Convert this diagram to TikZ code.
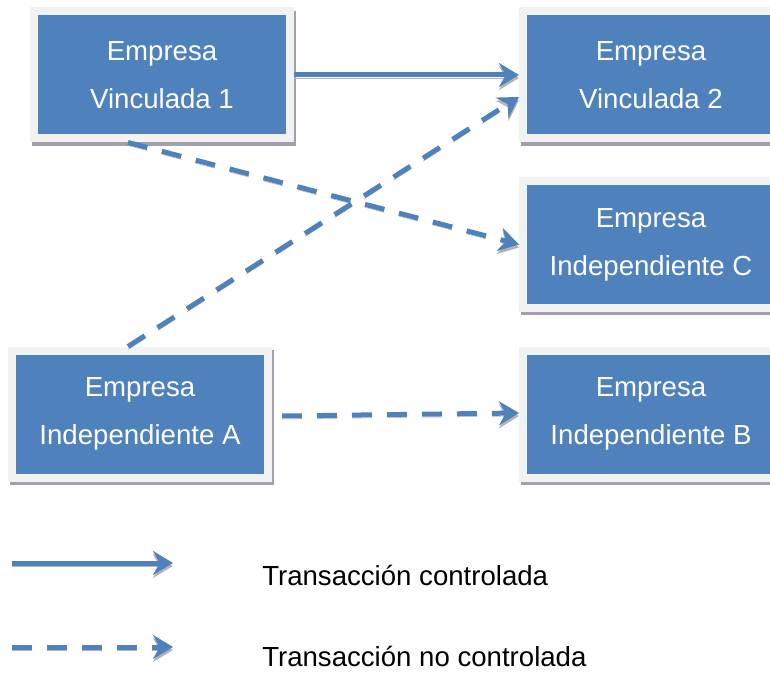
\documentclass[tikz,border=0pt]{standalone}
\usepackage{fontspec}
\setmainfont{Liberation Sans}
\usetikzlibrary{arrows.meta}
\definecolor{boxblue}{HTML}{4F81BD}
\definecolor{framegray}{HTML}{F2F2F2}
\definecolor{shadowgray}{HTML}{9FA0AA}
\definecolor{lineshadow}{HTML}{B4B4B4}
\tikzset{
  firm/.style={draw=framegray, line width=6pt, fill=boxblue,
    minimum width=192pt, minimum height=95.25pt, inner sep=0pt,
    text=white, align=center, font=\fontsize{20.7}{36}\selectfont,
    preaction={draw=shadowgray, fill=shadowgray, line width=6pt,
      transform canvas={shift={(1.5pt,-2.5pt)}}}},
  tipshape/.style={-{Stealth[length=15pt,width=18pt,inset=5pt]}},
  link/.style={draw=boxblue, line width=3.75pt, tipshape,
    preaction={draw=lineshadow, tipshape, transform canvas={yshift=-2.25pt}}},
  dashlink/.style={draw=boxblue, line width=3.75pt, tipshape,
    dash pattern=on 15pt off 11.25pt,
    preaction={draw=lineshadow, tipshape, dash pattern=on 15pt off 11.25pt,
      transform canvas={yshift=-2.25pt}}},
  legendtext/.style={anchor=base west, inner sep=0pt, font=\fontsize{20.7}{24}\selectfont}
}
\begin{document}
\begin{tikzpicture}[x=0.75pt, y=-0.75pt]
\useasboundingbox (0,0) rectangle (770,673);
\clip (0,0) rectangle (770,673);
\fill[white] (0,0) rectangle (770,673);

\node[firm] (v1) at (162,75) {Empresa\\Vinculada 1};
\node[firm] (v2) at (651,75) {Empresa\\Vinculada 2};
\node[firm] (c) at (651,244.5) {Empresa\\Independiente C};
\node[firm] (a) at (140,414) {Empresa\\Independiente A};
\node[firm] (b) at (651,414) {Empresa\\Independiente B};

\draw[link] (v1.east) -- (v2.west);
\draw[dashlink] ([xshift=-25.5pt]v1.south) -- (c.west);
\draw[dashlink] ([xshift=-9pt]a.north) -- ([yshift=-16.5pt]v2.west);
\draw[dashlink] ([xshift=7.5pt,yshift=-1.5pt]a.east) -- ([yshift=0.75pt]b.west);

\coordinate (s1) at (12,563);
\coordinate (s2) at (173,563);
\coordinate (d1) at (12,647);
\coordinate (d2) at (173,647);
\draw[link] (s1) -- (s2);
\draw[dashlink] (d1) -- (d2);
\node[legendtext] (l1) at (262,585) {Transacción controlada};
\node[legendtext] (l2) at (262,666) {Transacción no controlada};
\end{tikzpicture}
\end{document}
